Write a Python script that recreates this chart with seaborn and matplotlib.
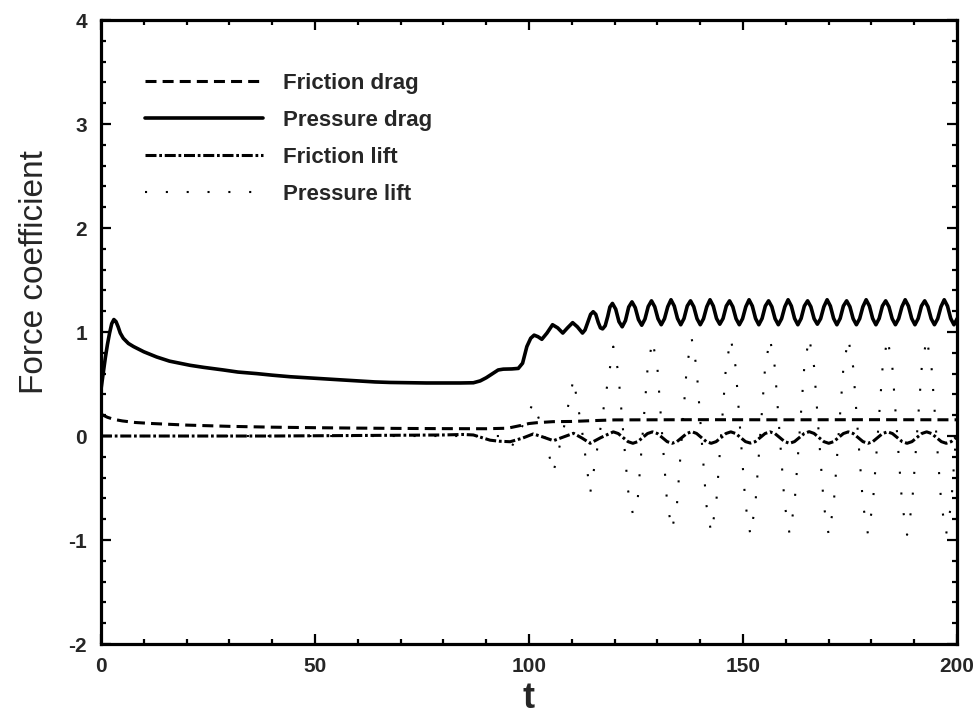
import numpy as np
import pandas as pd
import matplotlib
matplotlib.use("Agg")
import matplotlib.pyplot as plt
import seaborn as sns

# =========================================================
# DATA
# =========================================================

# pressure drag, start-up and transition part
pd_t_start = [0, 0.5, 1, 1.5, 2, 2.5, 3, 3.5, 4, 4.5, 5.2, 6.4, 7.6, 10, 13, 16, 20.8,
              24, 28.6, 32, 36.4, 40, 44.2, 48, 52, 56, 60, 64, 67.5, 72, 76, 80, 84,
              87, 88.6, 90, 91.5, 92.8, 94, 96, 97.5, 98.5, 99.5, 100.4, 101.2, 102.1,
              103, 104.2, 105.5, 106.7, 107.9, 109.0, 110.2, 111.3, 112.5, 113.1, 113.8,
              114.4, 115.0, 115.6, 116.2, 116.7, 117.2, 117.8, 118.4, 118.9]
pd_v_start = [0.45, 0.60, 0.75, 0.88, 0.99, 1.08, 1.12, 1.10, 1.05, 0.99, 0.94, 0.89, 0.86,
              0.81, 0.76, 0.72, 0.68, 0.66, 0.635, 0.615, 0.60, 0.585, 0.57, 0.56, 0.55,
              0.54, 0.53, 0.52, 0.515, 0.512, 0.51, 0.51, 0.51, 0.512, 0.53, 0.56, 0.60,
              0.635, 0.643, 0.645, 0.65, 0.70, 0.86, 0.94, 0.97, 0.955, 0.93, 0.99, 1.07,
              1.04, 0.99, 1.04, 1.09, 1.05, 0.99, 1.02, 1.10, 1.17, 1.195, 1.17, 1.09,
              1.04, 1.03, 1.06, 1.15, 1.24]

# pressure drag, periodic part: samples every 0.76 from t = 119.5
pd_osc_t0 = 119.5
pd_osc_dt = 0.76
pd_v_osc = [1.275, 1.22, 1.10, 1.05, 1.11, 1.24,
            1.29, 1.235, 1.12, 1.065, 1.125, 1.245,
            1.30, 1.243, 1.128, 1.07, 1.128, 1.243,
            1.31, 1.25, 1.13, 1.07, 1.13, 1.25,
            1.30, 1.243, 1.128, 1.07, 1.128, 1.243,
            1.31, 1.25, 1.13, 1.075, 1.13, 1.25,
            1.30, 1.243, 1.128, 1.07, 1.128, 1.243,
            1.31, 1.25, 1.13, 1.07, 1.13, 1.25,
            1.30, 1.243, 1.128, 1.07, 1.128, 1.243,
            1.31, 1.25, 1.13, 1.07, 1.13, 1.25,
            1.30, 1.243, 1.128, 1.075, 1.128, 1.243,
            1.31, 1.25, 1.13, 1.07, 1.13, 1.25,
            1.30, 1.243, 1.128, 1.07, 1.128, 1.243,
            1.31, 1.25, 1.13, 1.07, 1.13, 1.25,
            1.30, 1.243, 1.128, 1.07, 1.128, 1.243,
            1.31, 1.25, 1.13, 1.07, 1.13, 1.25,
            1.30, 1.243, 1.128, 1.07, 1.128, 1.243,
            1.31, 1.25, 1.13, 1.07, 1.13]

# friction drag
fd_t = [0, 0.5, 1.5, 3, 5, 8, 12, 20, 30, 40, 50, 60, 70, 80, 90, 95, 97.9, 100, 101.8,
        105.6, 110, 115, 120, 140, 160, 180, 200]
fd_v = [0.21, 0.20, 0.18, 0.16, 0.145, 0.13, 0.12, 0.105, 0.093, 0.085, 0.08, 0.076,
        0.073, 0.071, 0.07, 0.075, 0.10, 0.12, 0.128, 0.138, 0.14, 0.148, 0.155, 0.157,
        0.156, 0.157, 0.156]

# friction lift, start-up part
fl_t_start = [0, 20, 40, 60, 80, 84.6, 87, 90.9, 93, 95.6, 98.5, 101, 103.3, 105.7, 108,
              110.4, 112.4, 114.3, 116.8]
fl_v_start = [0.0, 0.0, 0.0, 0.005, 0.01, 0.015, 0.01, -0.04, -0.05, -0.055, -0.02, 0.02,
              -0.01, -0.045, -0.01, 0.026, -0.02, -0.07, -0.015]

# friction lift / pressure lift, periodic part: samples every 1.144 from t = 119.7
lift_osc_t0 = 119.7
lift_osc_dt = 1.144
fl_v_osc = [0.04, 0.024, -0.015, -0.054, -0.07, -0.054, -0.015, 0.024,
            0.04, 0.024, -0.015, -0.054, -0.07, -0.054, -0.015, 0.024,
            0.042, 0.025, -0.015, -0.054, -0.07, -0.054, -0.015, 0.024,
            0.04, 0.024, -0.015, -0.054, -0.068, -0.054, -0.015, 0.024,
            0.04, 0.024, -0.015, -0.054, -0.07, -0.054, -0.015, 0.024,
            0.042, 0.025, -0.015, -0.054, -0.07, -0.054, -0.015, 0.024,
            0.04, 0.024, -0.015, -0.054, -0.07, -0.054, -0.015, 0.024,
            0.04, 0.024, -0.015, -0.054, -0.07, -0.054, -0.015, 0.024,
            0.04, 0.024, -0.015, -0.054, -0.07, -0.054, -0.015]

# pressure lift, start-up part
pl_t_start = [0, 40, 80, 94, 96, 98.5, 101, 103.3, 105.7, 108, 110.4, 112.4, 114.3, 116.8]
pl_v_start = [0.0, 0.0, 0.0, 0.0, -0.1, 0.1, 0.32, 0.05, -0.35, 0.05, 0.55, 0.05, -0.55, 0.1]

pl_v_osc = [0.86, 0.62, 0.05, -0.52, -0.75, -0.60, 0.02, 0.65,
            0.92, 0.66, 0.0, -0.65, -0.90, -0.66, 0.0, 0.66,
            0.94, 0.66, 0.0, -0.66, -0.93, -0.66, 0.0, 0.66,
            0.94, 0.66, 0.0, -0.66, -0.95, -0.67, 0.0, 0.66,
            0.94, 0.66, 0.0, -0.66, -0.94, -0.66, 0.0, 0.66,
            0.95, 0.67, 0.0, -0.67, -0.95, -0.67, 0.0, 0.66,
            0.94, 0.66, 0.0, -0.66, -0.94, -0.66, 0.0, 0.66,
            0.94, 0.66, 0.0, -0.66, -0.95, -0.67, 0.0, 0.66,
            0.94, 0.66, 0.0, -0.66, -0.94, -0.66, 0.0]

labels = ["Friction drag", "Pressure drag", "Friction lift", "Pressure lift"]
x_ticks = [0, 50, 100, 150, 200]
y_ticks = [-2, -1, 0, 1, 2, 3, 4]

# =========================================================
# ASSEMBLE SERIES
# =========================================================

pd_t = pd_t_start + list(pd_osc_t0 + pd_osc_dt * np.arange(len(pd_v_osc)))
pd_v = pd_v_start + pd_v_osc
lift_t_osc = list(lift_osc_t0 + lift_osc_dt * np.arange(len(fl_v_osc)))
fl_t = fl_t_start + lift_t_osc
fl_v = fl_v_start + fl_v_osc
pl_t = pl_t_start + lift_t_osc
pl_v = pl_v_start + pl_v_osc

series = {
    "Friction drag": (fd_t, fd_v),
    "Pressure drag": (pd_t, pd_v),
    "Friction lift": (fl_t, fl_v),
    "Pressure lift": (pl_t, pl_v),
}
styles = {
    "Friction drag": dict(linestyle=(0, (3.6, 2.0)), linewidth=2.2, zorder=3),
    "Pressure drag": dict(linestyle="-", linewidth=2.6, zorder=4),
    "Friction lift": dict(linestyle=(0, (3.6, 0.9, 0.9, 0.9)), linewidth=2.2, zorder=3),
    "Pressure lift": dict(linestyle=(0, (1, 9)), linewidth=1.5, zorder=2),
}

# =========================================================
# PLOT
# =========================================================

sns.set_style("ticks")
plt.rcParams["font.family"] = ["Liberation Sans", "DejaVu Sans"]
plt.rcParams["axes.unicode_minus"] = False

fig = plt.figure(figsize=(9.76, 7.25), dpi=100)
ax = fig.add_axes([0.1035, 0.1117, 0.877, 0.8607])

for name in labels:
    t, v = series[name]
    df = pd.DataFrame({"t": t, "v": v})
    sns.lineplot(data=df, x="t", y="v", ax=ax, color="black", label=name,
                 errorbar=None, sort=False, **styles[name])

ax.set_xlim(0, 200)
ax.set_ylim(-2, 4)
ax.set_xticks(x_ticks)
ax.set_yticks(y_ticks)
ax.set_xticks(np.arange(0, 201, 10), minor=True)
ax.set_yticks(np.arange(-2, 4.01, 0.2), minor=True)

ax.tick_params(which="both", direction="in", top=True, right=True, width=1.6, color="black")
ax.tick_params(which="major", length=7)
ax.tick_params(which="minor", length=3.5)
ax.tick_params(axis="x", which="major", pad=9)
ax.tick_params(axis="y", which="major", pad=10)
for lab in ax.get_xticklabels() + ax.get_yticklabels():
    lab.set_fontweight("bold")
    lab.set_fontsize(15)

for sp in ax.spines.values():
    sp.set_linewidth(2.3)
    sp.set_color("black")

ax.set_xlabel("t", fontsize=26, fontweight="bold", labelpad=4)
ax.set_ylabel("Force coefficient", fontsize=24)
ax.yaxis.set_label_coords(-0.06, 0.596)

leg = ax.legend(loc="upper left", bbox_to_anchor=(0.028, 0.947), frameon=False,
                handlelength=5.3, handletextpad=0.9, labelspacing=0.72,
                prop=dict(weight="bold", size=16))

fig.savefig("out.png", dpi=100, facecolor="white")
